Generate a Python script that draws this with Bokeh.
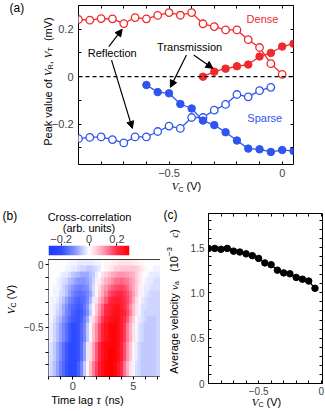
import math
import numpy as np
from bokeh.plotting import figure
from bokeh.models import (Range1d, LinearAxis, FixedTicker, Label, Arrow, NormalHead,
                          Span, LinearColorMapper, GridBox)
from bokeh.layouts import column, row
from bokeh.core.properties import value
from bokeh.embed import file_html
from bokeh.resources import INLINE

# ---------------- data: panel (a) ----------------
vc_dense_refl = [-0.9, -0.85, -0.8, -0.75, -0.7, -0.65, -0.6, -0.55, -0.5, -0.45,
                 -0.4, -0.35, -0.3, -0.25, -0.2, -0.15, -0.1, -0.05, 0.0]
dense_refl = [0.241, 0.238, 0.245, 0.244, 0.224, 0.249, 0.244, 0.258, 0.270, 0.259,
              0.270, 0.223, 0.211, 0.197, 0.197, 0.156, 0.123, 0.055, 0.010]
vc_dense_trans = [-0.35, -0.3, -0.25, -0.2, -0.15, -0.1, -0.05, 0.0, 0.05]
dense_trans = [0.000, 0.021, 0.034, 0.044, 0.051, 0.085, 0.100, 0.127, 0.139]
vc_sparse_refl = [-0.9, -0.85, -0.8, -0.75, -0.7, -0.65, -0.6, -0.55, -0.5, -0.45,
                  -0.4, -0.35, -0.3, -0.25, -0.2, -0.15, -0.1, -0.05]
sparse_refl = [-0.261, -0.256, -0.254, -0.265, -0.279, -0.254, -0.254, -0.231, -0.208, -0.218,
               -0.172, -0.172, -0.141, -0.117, -0.075, -0.085, -0.059, -0.045]
vc_sparse_trans = [-0.6, -0.55, -0.5, -0.45, -0.4, -0.35, -0.3, -0.25, -0.2, -0.15,
                   -0.1, -0.05, 0.0, 0.05]
sparse_trans = [-0.035, -0.065, -0.070, -0.115, -0.134, -0.185, -0.204, -0.234, -0.269, -0.303,
                -0.306, -0.317, -0.309, -0.313]

# ---------------- data: panel (b) ----------------
tau_cols = [-2.0, -1.75, -1.5, -1.25, -1.0, -0.75, -0.5, -0.25, 0.0, 0.25, 0.5, 0.75,
            1.0, 1.25, 1.5, 1.75, 2.0, 2.25, 2.5, 2.75, 3.0, 3.25, 3.5, 3.75, 4.0, 4.25,
            4.5, 4.75, 5.0, 5.25, 5.5, 5.75, 6.0, 6.25, 6.5, 6.75, 7.0, 7.25, 7.5, 7.75, 8.0]
vc_rows = [-0.9, -0.85, -0.8, -0.75, -0.7, -0.65, -0.6, -0.55, -0.5, -0.45,
           -0.4, -0.35, -0.3, -0.25, -0.2, -0.15, -0.1, -0.05, 0.0]
xcorr = [
    [-0.02, -0.04, -0.06, -0.09, -0.13, -0.16, -0.19, -0.21, -0.21, -0.20, -0.17, -0.12, -0.05, 0.01, 0.07, 0.13, 0.18, 0.23, 0.26, 0.28, 0.29, 0.29, 0.27, 0.24, 0.20, 0.14, 0.08, 0.03, -0.01, -0.03, -0.04, -0.05, -0.05, -0.05, -0.05, -0.05, -0.04, -0.04, -0.03, -0.03, -0.02],
    [-0.02, -0.04, -0.06, -0.09, -0.13, -0.16, -0.19, -0.21, -0.21, -0.20, -0.17, -0.12, -0.05, 0.01, 0.07, 0.13, 0.18, 0.23, 0.26, 0.28, 0.29, 0.29, 0.27, 0.24, 0.20, 0.14, 0.08, 0.03, -0.01, -0.03, -0.04, -0.05, -0.05, -0.05, -0.05, -0.05, -0.04, -0.04, -0.03, -0.03, -0.02],
    [-0.02, -0.04, -0.06, -0.09, -0.13, -0.16, -0.19, -0.21, -0.21, -0.20, -0.17, -0.12, -0.05, 0.01, 0.07, 0.13, 0.18, 0.23, 0.26, 0.28, 0.29, 0.29, 0.27, 0.24, 0.20, 0.14, 0.08, 0.03, -0.01, -0.03, -0.04, -0.05, -0.05, -0.05, -0.05, -0.05, -0.04, -0.04, -0.03, -0.03, -0.02],
    [-0.02, -0.03, -0.05, -0.08, -0.11, -0.15, -0.18, -0.20, -0.21, -0.21, -0.19, -0.15, -0.09, -0.02, 0.04, 0.10, 0.16, 0.21, 0.25, 0.27, 0.29, 0.29, 0.28, 0.26, 0.22, 0.17, 0.11, 0.06, 0.01, -0.02, -0.04, -0.05, -0.05, -0.05, -0.05, -0.05, -0.04, -0.04, -0.03, -0.03, -0.02],
    [-0.02, -0.03, -0.05, -0.08, -0.11, -0.15, -0.18, -0.20, -0.21, -0.21, -0.19, -0.15, -0.09, -0.02, 0.04, 0.10, 0.16, 0.21, 0.25, 0.27, 0.29, 0.29, 0.28, 0.26, 0.22, 0.17, 0.11, 0.06, 0.01, -0.02, -0.04, -0.05, -0.05, -0.05, -0.05, -0.05, -0.04, -0.04, -0.03, -0.03, -0.02],
    [-0.02, -0.03, -0.05, -0.08, -0.11, -0.15, -0.18, -0.20, -0.21, -0.21, -0.19, -0.15, -0.09, -0.02, 0.04, 0.10, 0.16, 0.21, 0.25, 0.27, 0.28, 0.28, 0.28, 0.26, 0.22, 0.17, 0.11, 0.06, 0.01, -0.02, -0.04, -0.05, -0.05, -0.05, -0.05, -0.05, -0.04, -0.04, -0.03, -0.03, -0.02],
    [-0.01, -0.02, -0.04, -0.06, -0.09, -0.12, -0.15, -0.18, -0.20, -0.20, -0.19, -0.16, -0.12, -0.05, 0.01, 0.07, 0.12, 0.17, 0.22, 0.25, 0.27, 0.28, 0.28, 0.26, 0.23, 0.19, 0.13, 0.08, 0.03, -0.01, -0.03, -0.04, -0.05, -0.05, -0.05, -0.05, -0.04, -0.04, -0.03, -0.03, -0.02],
    [-0.01, -0.02, -0.04, -0.06, -0.09, -0.12, -0.15, -0.18, -0.20, -0.20, -0.19, -0.16, -0.12, -0.05, 0.01, 0.07, 0.12, 0.17, 0.22, 0.25, 0.27, 0.28, 0.28, 0.26, 0.23, 0.19, 0.13, 0.08, 0.03, -0.01, -0.03, -0.04, -0.05, -0.05, -0.05, -0.05, -0.04, -0.04, -0.03, -0.03, -0.02],
    [-0.01, -0.02, -0.04, -0.06, -0.09, -0.12, -0.15, -0.18, -0.20, -0.20, -0.19, -0.16, -0.12, -0.05, 0.01, 0.07, 0.12, 0.17, 0.22, 0.25, 0.27, 0.28, 0.28, 0.26, 0.23, 0.19, 0.13, 0.08, 0.03, -0.01, -0.03, -0.04, -0.05, -0.05, -0.05, -0.05, -0.04, -0.04, -0.03, -0.03, -0.02],
    [-0.01, -0.01, -0.03, -0.05, -0.07, -0.10, -0.13, -0.16, -0.18, -0.19, -0.19, -0.17, -0.13, -0.08, -0.02, 0.04, 0.09, 0.14, 0.19, 0.23, 0.25, 0.26, 0.27, 0.26, 0.23, 0.20, 0.16, 0.10, 0.05, 0.01, -0.02, -0.03, -0.04, -0.05, -0.05, -0.05, -0.04, -0.04, -0.03, -0.03, -0.03],
    [-0.01, -0.01, -0.02, -0.04, -0.05, -0.08, -0.12, -0.14, -0.17, -0.18, -0.19, -0.18, -0.15, -0.11, -0.05, 0.01, 0.06, 0.12, 0.16, 0.21, 0.23, 0.25, 0.26, 0.26, 0.24, 0.22, 0.18, 0.13, 0.07, 0.03, -0.01, -0.03, -0.04, -0.04, -0.04, -0.04, -0.04, -0.04, -0.04, -0.03, -0.03],
    [-0.01, -0.01, -0.02, -0.03, -0.05, -0.08, -0.11, -0.14, -0.16, -0.17, -0.18, -0.17, -0.14, -0.10, -0.04, 0.01, 0.06, 0.11, 0.15, 0.20, 0.22, 0.24, 0.25, 0.25, 0.23, 0.20, 0.17, 0.12, 0.07, 0.03, -0.01, -0.03, -0.03, -0.04, -0.04, -0.04, -0.04, -0.04, -0.03, -0.03, -0.03],
    [0.00, -0.01, -0.01, -0.02, -0.04, -0.06, -0.09, -0.12, -0.14, -0.16, -0.17, -0.16, -0.15, -0.12, -0.07, -0.02, 0.03, 0.08, 0.12, 0.16, 0.20, 0.22, 0.23, 0.23, 0.22, 0.20, 0.18, 0.14, 0.09, 0.04, 0.01, -0.02, -0.03, -0.04, -0.04, -0.04, -0.04, -0.04, -0.03, -0.03, -0.03],
    [0.00, 0.00, -0.01, -0.01, -0.03, -0.04, -0.06, -0.09, -0.12, -0.14, -0.15, -0.15, -0.14, -0.12, -0.09, -0.04, 0.01, 0.05, 0.09, 0.13, 0.17, 0.19, 0.20, 0.21, 0.21, 0.19, 0.17, 0.14, 0.10, 0.06, 0.02, -0.01, -0.02, -0.03, -0.04, -0.04, -0.04, -0.04, -0.03, -0.03, -0.03],
    [0.00, 0.00, -0.01, -0.01, -0.02, -0.04, -0.06, -0.08, -0.10, -0.12, -0.13, -0.13, -0.12, -0.11, -0.07, -0.03, 0.01, 0.04, 0.08, 0.11, 0.14, 0.16, 0.17, 0.18, 0.18, 0.17, 0.15, 0.12, 0.09, 0.05, 0.02, -0.01, -0.02, -0.02, -0.03, -0.03, -0.03, -0.03, -0.03, -0.02, -0.02],
    [0.00, 0.00, 0.00, -0.01, -0.02, -0.03, -0.04, -0.06, -0.07, -0.09, -0.10, -0.10, -0.10, -0.09, -0.07, -0.04, -0.01, 0.02, 0.05, 0.08, 0.10, 0.12, 0.14, 0.14, 0.15, 0.14, 0.13, 0.11, 0.09, 0.06, 0.03, 0.01, -0.01, -0.02, -0.02, -0.03, -0.03, -0.03, -0.02, -0.02, -0.02],
    [0.00, 0.00, 0.00, 0.00, -0.01, -0.02, -0.02, -0.03, -0.05, -0.06, -0.07, -0.08, -0.08, -0.08, -0.06, -0.05, -0.02, 0.00, 0.03, 0.05, 0.07, 0.09, 0.10, 0.11, 0.11, 0.11, 0.10, 0.09, 0.08, 0.05, 0.03, 0.01, 0.00, -0.01, -0.02, -0.02, -0.02, -0.02, -0.02, -0.02, -0.02],
    [0.00, 0.00, 0.00, 0.00, 0.00, 0.00, -0.01, -0.01, -0.02, -0.02, -0.03, -0.04, -0.04, -0.05, -0.05, -0.04, -0.03, -0.02, 0.00, 0.01, 0.02, 0.03, 0.05, 0.05, 0.06, 0.06, 0.06, 0.06, 0.06, 0.05, 0.04, 0.02, 0.01, 0.00, 0.00, -0.01, -0.01, -0.01, -0.01, -0.01, -0.01],
    [0.00, 0.00, 0.00, 0.00, 0.00, 0.00, 0.00, -0.01, -0.01, -0.01, -0.02, -0.02, -0.02, -0.02, -0.02, -0.02, -0.01, -0.01, 0.00, 0.01, 0.01, 0.02, 0.02, 0.03, 0.03, 0.03, 0.03, 0.03, 0.02, 0.02, 0.01, 0.01, 0.00, 0.00, 0.00, 0.00, 0.00, 0.00, 0.00, 0.00, 0.00],
]
cbar_ticks = [-0.2, 0.0, 0.2]

# ---------------- data: panel (c) ----------------
vc_vel = [-0.9, -0.85, -0.8, -0.75, -0.7, -0.65, -0.6, -0.55, -0.5, -0.45,
          -0.4, -0.35, -0.3, -0.25, -0.2, -0.15, -0.1, -0.05]
velocity = [1.49, 1.49, 1.48, 1.49, 1.46, 1.45, 1.43, 1.41, 1.38, 1.33,
            1.31, 1.25, 1.22, 1.21, 1.17, 1.15, 1.13, 1.05]

# ---------------- style ----------------
SANS = "Liberation Sans"
SERIF = "Liberation Serif"
RED = "#f02a2a"
BLUE = "#2f55ee"
PAGE_W, PAGE_H = 325, 410

W_SANS = {' ': 278, '(': 333, ')': 333, ',': 278, '.': 278, '\u2212': 584, '-': 333,
          'A': 667, 'C': 722, 'D': 722, 'P': 667, 'R': 722, 'S': 667, 'T': 611, 'V': 667,
          'a': 556, 'c': 500, 'e': 556, 'f': 278, 'g': 556, 'i': 222, 'k': 500, 'l': 222,
          'm': 833, 'n': 556, 'o': 556, 'p': 556, 'r': 333, 's': 500, 't': 278, 'u': 556,
          'v': 500, 'y': 500}
W_SERIF_I = {' ': 250, 'V': 611, 'v': 444, 'c': 444, '\u03c4': 440}


def twidth(text, font, size):
    tab = W_SANS if font == SANS else W_SERIF_I
    return sum(tab.get(ch, 556) for ch in text) * size / 1000.0


def style_axis(ax, major, minor, labels, inward=True, size="11px", standoff=3, tick=3):
    ax.ticker = FixedTicker(ticks=major, minor_ticks=minor)
    ax.major_label_overrides = labels
    ax.axis_line_color = None
    ax.major_tick_line_color = "black"
    ax.minor_tick_line_color = "black"
    if inward:
        ax.major_tick_in, ax.major_tick_out = tick, 0
        ax.minor_tick_in, ax.minor_tick_out = tick, 0
    else:
        ax.major_tick_in, ax.major_tick_out = 0, tick
        ax.minor_tick_in, ax.minor_tick_out = 0, tick
    ax.major_label_text_font = SANS
    ax.major_label_text_font_size = size
    ax.major_label_standoff = standoff


def mirror(fig, side, major, minor):
    ax = LinearAxis()
    style_axis(ax, major, minor, {m: "" for m in major}, inward=True, size="0px", standoff=0)
    fig.add_layout(ax, side)


def base(fig):
    fig.xgrid.visible = False
    fig.ygrid.visible = False
    fig.outline_line_color = "black"
    fig.outline_line_width = 1
    fig.background_fill_color = "white"
    fig.border_fill_color = "white"


# ================= overlay for texts outside the frames =================
ov = figure(width=PAGE_W, height=PAGE_H, x_range=Range1d(0, PAGE_W), y_range=Range1d(PAGE_H, 0),
            min_border=0, x_axis_location=None, y_axis_location=None,
            output_backend="svg", toolbar_location=None)
ov.xgrid.visible = False
ov.ygrid.visible = False
ov.outline_line_color = None
ov.background_fill_alpha = 0
ov.border_fill_alpha = 0


def otext(t, px, py, size, font=SANS, style="normal", align="left", angle=0.0, color="black"):
    ov.text(x=[px], y=[py], text=[t], text_font=value(font), text_font_style=style,
            text_font_size=f"{size}px", text_align=align, text_baseline="middle",
            angle=angle, text_color=color)


def composite(segs, cx, cy, vertical=False):
    total = sum(twidth(t, f, s) for t, f, st, s, sh in segs)
    pos = 0.0
    for t, f, st, s, sh in segs:
        lead = len(t) - len(t.lstrip(' '))
        off = pos + twidth(' ' * lead, f, s)
        txt = t.strip(' ')
        if txt:
            if vertical:
                otext(txt, cx + sh, cy + total / 2 - off, s, f, st, angle=math.pi / 2)
            else:
                otext(txt, cx - total / 2 + off, cy + sh, s, f, st)
        pos += twidth(t, f, s)


# ================= panel (a) =================
pa = figure(frame_width=215, frame_height=159, x_range=Range1d(-0.9, 0.05),
            y_range=Range1d(-0.37, 0.30), min_border_left=78, min_border_right=32,
            min_border_top=5, min_border_bottom=41, output_backend="svg",
            toolbar_location=None)
base(pa)
xt_a = [-0.9, -0.8, -0.7, -0.6, -0.4, -0.3, -0.2, -0.1]
yt_a = [-0.3, -0.1, 0.1, 0.3]
style_axis(pa.xaxis[0], [-0.5, 0.0], xt_a, {-0.5: "\u22120.5", 0.0: "0"}, standoff=4)
style_axis(pa.yaxis[0], [-0.2, 0.0, 0.2], yt_a, {-0.2: "\u22120.2", 0.0: "0", 0.2: "0.2"}, standoff=5)
mirror(pa, "above", [-0.5, 0.0], xt_a)
mirror(pa, "right", [-0.2, 0.0, 0.2], yt_a)

pa.add_layout(Span(location=0, dimension="width", line_color="black", line_width=1.3,
                   line_dash="4 3"))

pa.line(vc_dense_refl, dense_refl, line_color=RED, line_width=1.3)
pa.scatter(vc_dense_refl, dense_refl, size=7.5, marker="circle", fill_color="white",
           line_color=RED, line_width=1.3)
pa.line(vc_dense_trans, dense_trans, line_color=RED, line_width=1.3)
pa.scatter(vc_dense_trans, dense_trans, size=7.5, marker="circle", fill_color=RED,
           line_color=RED)
pa.line(vc_sparse_refl, sparse_refl, line_color=BLUE, line_width=1.3)
pa.scatter(vc_sparse_refl, sparse_refl, size=7.5, marker="circle", fill_color="white",
           line_color=BLUE, line_width=1.3)
pa.line(vc_sparse_trans, sparse_trans, line_color=BLUE, line_width=1.3)
pa.scatter(vc_sparse_trans, sparse_trans, size=7.5, marker="circle", fill_color=BLUE,
           line_color=BLUE)

for (x0, y0, x1, y1) in [(-0.766, 0.127, -0.707, 0.200), (-0.754, 0.070, -0.662, -0.218),
                         (-0.423, 0.0915, -0.494, -0.045), (-0.391, 0.0915, -0.306, 0.035)]:
    pa.add_layout(Arrow(end=NormalHead(size=7, fill_color="black", line_color="black"),
                        x_start=x0, y_start=y0, x_end=x1, y_end=y1,
                        line_color="black", line_width=1.2))

for txt, x, y, col in [("Reflection", -0.751, 0.101, "black"), ("Transmission", -0.409, 0.1245, "black"),
                       ("Dense", -0.087, 0.243, RED), ("Sparse", -0.077, -0.1725, BLUE)]:
    pa.add_layout(Label(x=x, y=y, text=txt, text_font=SANS, text_font_size="11px",
                        text_color=col, text_align="center", text_baseline="middle"))

otext("(a)", 9, 7, 12)
composite([("Peak value of ", SANS, "normal", 11, 0),
           ("V", SERIF, "italic", 11, 0), ("R", SANS, "normal", 7, 3),
           (", ", SANS, "normal", 11, 0),
           ("V", SERIF, "italic", 11, 0), ("T", SANS, "normal", 7, 3),
           ("  (mV)", SANS, "normal", 11, 0)], 47, 81, vertical=True)
composite([("V", SERIF, "italic", 11, 0), ("C", SANS, "normal", 7, 3),
           (" (V)", SANS, "normal", 11, 0)], 186, 185.5)

# ================= colour mapping =================
LOW, HIGH = -0.29, 0.29
stops = [(-0.29, (30, 55, 255)), (-0.2, (45, 75, 255)), (-0.1, (135, 150, 255)),
         (0.0, (255, 255, 255)), (0.1, (255, 160, 185)), (0.2, (255, 45, 75)),
         (0.29, (255, 0, 0))]


def colour_at(v):
    for (v0, c0), (v1, c1) in zip(stops[:-1], stops[1:]):
        if v <= v1:
            t = (v - v0) / (v1 - v0)
            return "#%02x%02x%02x" % tuple(int(round(c0[k] + (c1[k] - c0[k]) * t)) for k in range(3))
    return "#%02x%02x%02x" % stops[-1][1]


palette = [colour_at(LOW + (HIGH - LOW) * i / 255) for i in range(256)]
mapper = LinearColorMapper(palette=palette, low=LOW, high=HIGH)

# ================= colour bar (b) =================
pcb = figure(frame_width=81, frame_height=10, x_range=Range1d(LOW, HIGH),
             y_range=Range1d(0, 1), min_border_left=48, min_border_right=31,
             min_border_top=40, min_border_bottom=2, x_axis_location="above",
             y_axis_location=None, output_backend="svg", toolbar_location=None)
base(pcb)
pcb.outline_line_color = None
grad = np.linspace(LOW, HIGH, 200).reshape(1, -1)
pcb.image(image=[grad], x=LOW, y=0, dw=HIGH - LOW, dh=1, color_mapper=mapper)
style_axis(pcb.xaxis[0], cbar_ticks, [], {-0.2: "\u22120.2", 0.0: "0", 0.2: "0.2"},
           inward=False, standoff=1, tick=2)
otext("(b)", 2, 215, 12)
otext("Cross-correlation", 89, 216, 11, align="center")
otext("(arb. units)", 88.5, 227.5, 11, align="center")

# ================= heatmap (b) =================
pb = figure(frame_width=121, frame_height=117, x_range=Range1d(-2, 8),
            y_range=Range1d(-0.895, 0.042), min_border_left=33,
            min_border_right=6, min_border_top=2,
            min_border_bottom=33, output_backend="svg", toolbar_location=None)
base(pb)
img = np.array(xcorr)
pb.image(image=[img], x=tau_cols[0] - 0.125, y=vc_rows[0] - 0.025,
         dw=tau_cols[-1] - tau_cols[0] + 0.25, dh=0.967, color_mapper=mapper)
style_axis(pb.xaxis[0], [0.0, 5.0], [-2.0, -1.0, 1.0, 2.0, 3.0, 4.0, 6.0, 7.0, 8.0],
           {0.0: "0", 5.0: "5"}, inward=False, size="11px", standoff=2)
style_axis(pb.yaxis[0], [-0.5, 0.0], [-0.9, -0.8, -0.7, -0.6, -0.4, -0.3, -0.2, -0.1],
           {-0.5: "\u22120.5", 0.0: "0"}, inward=False, size="10px", standoff=2)
composite([("V", SERIF, "italic", 11, 0), ("C", SANS, "normal", 7, 3),
           (" (V)", SANS, "normal", 11, 0)], 10, 299, vertical=True)
composite([("Time lag ", SANS, "normal", 11, 0),
           ("\u03c4", SERIF, "italic", 12, 0),
           (" (ns)", SANS, "normal", 11, 0)], 87, 399)

# ================= panel (c) =================
pc = figure(frame_width=114, frame_height=170, x_range=Range1d(-0.9, 0.01),
            y_range=Range1d(0, 1.875), min_border_left=48,
            min_border_right=3, min_border_top=8,
            min_border_bottom=27, output_backend="svg", toolbar_location=None)
base(pc)
xt_c = [-0.9, -0.8, -0.7, -0.6, -0.4, -0.3, -0.2, -0.1]
yt_c = [0.1, 0.2, 0.3, 0.4, 0.6, 0.7, 0.8, 0.9, 1.1, 1.2, 1.3, 1.4, 1.6, 1.7, 1.8]
style_axis(pc.xaxis[0], [-0.5, 0.0], xt_c, {-0.5: "\u22120.5", 0.0: "0"}, size="10px", standoff=3)
style_axis(pc.yaxis[0], [0.0, 0.5, 1.0, 1.5], yt_c,
           {0.0: "0", 0.5: "0.5", 1.0: "1.0", 1.5: "1.5"}, size="10px", standoff=4)
mirror(pc, "above", [-0.5, 0.0], xt_c)
mirror(pc, "right", [0.0, 0.5, 1.0, 1.5], yt_c)
pc.line(vc_vel, velocity, line_color="black", line_width=1.3)
pc.scatter(vc_vel, velocity, size=6.5, marker="circle", fill_color="black", line_color="black")
otext("(c)", 163, 214.5, 12)
composite([("Average velocity ", SANS, "normal", 11, 0),
           ("v", SERIF, "italic", 11, 0), ("a", SANS, "normal", 7, 3),
           ("   (10", SANS, "normal", 11, 0), ("\u22123", SANS, "normal", 8, -4),
           ("   ", SANS, "normal", 11, 0), ("c", SERIF, "italic", 11, 0),
           (")", SANS, "normal", 11, 0)], 173, 301, vertical=True)
composite([("V", SERIF, "italic", 11, 0), ("C", SANS, "normal", 7, 3),
           (" (V)", SANS, "normal", 11, 0)], 266, 401)

main = column(pa, row(column(pcb, pb), pc))
layout = GridBox(children=[(main, 0, 0), (ov, 0, 0)])
open("out.html", "w").write(file_html(layout, INLINE))
